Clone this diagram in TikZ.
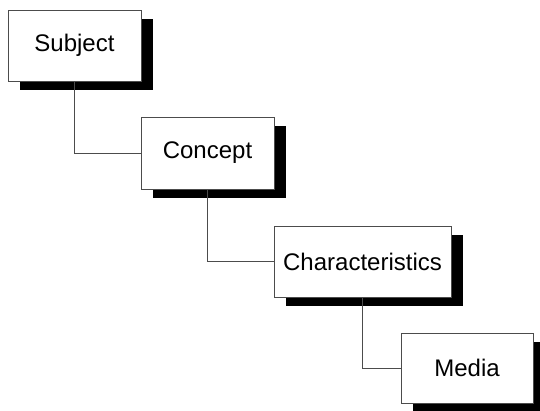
\documentclass[tikz,border=0pt]{standalone}
\usepackage{fontspec}
\setmainfont{Liberation Sans}
\usetikzlibrary{shadows}
\begin{document}
\begin{tikzpicture}[x=1pt,y=1pt,
  stage/.style={draw=black!70, line width=0.8pt, fill=white,
    font=\fontsize{24}{27}\selectfont, inner sep=0pt,
    drop shadow={shadow xshift=12pt, shadow yshift=-9pt, opacity=1, fill=black}},
  link/.style={draw=black!70, line width=0.8pt}]
  \useasboundingbox (0,0) rectangle (540,411);
  \node[stage, minimum width=133pt, minimum height=71pt] (subj) at (74.5,365.5) {Subject};
  \node[stage, minimum width=133pt, minimum height=72pt] (conc) at (207.5,258) {Concept};
  \node[stage, minimum width=177pt, minimum height=71pt] (char) at (362.5,149.5) {Characteristics};
  \node[stage, minimum width=132pt, minimum height=70pt] (media) at (467,43) {Media};
  \draw[link] (subj.south) |- (conc.west);
  \draw[link] (conc.south) |- (char.west);
  \draw[link] (char.south) |- (media.west);
\end{tikzpicture}
\end{document}
